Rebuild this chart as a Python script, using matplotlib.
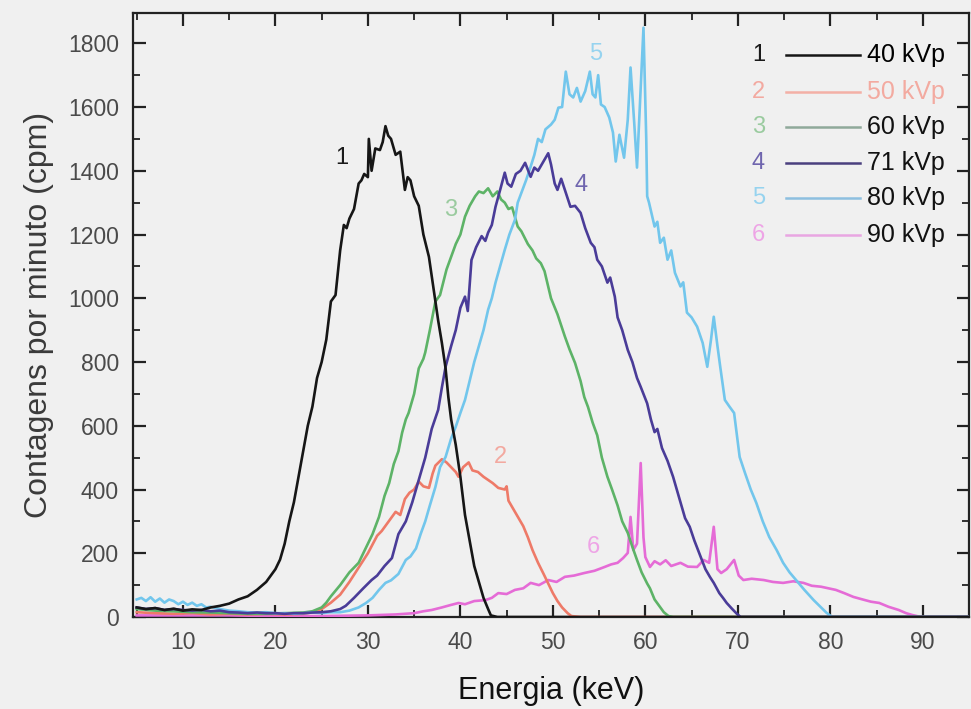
import matplotlib
matplotlib.use("Agg")
import matplotlib.pyplot as plt
from matplotlib.ticker import MultipleLocator

plt.rcParams['font.family'] = ['Liberation Sans', 'DejaVu Sans']

# ---------------- data ----------------
e1 = [5, 6, 7, 8, 9, 10, 11, 12, 13, 14, 15, 16, 17, 18, 19, 20, 20.5, 21, 21.5, 22, 22.5, 23, 23.5, 24,
      24.5, 25, 25.5, 26, 26.5, 27, 27.4, 27.7, 28, 28.5, 29, 29.3, 29.6, 30, 30.1, 30.4, 30.8, 31.3, 31.6,
      31.9, 32.2, 32.5, 33, 33.5, 34, 34.3, 34.6, 35, 35.5, 36, 36.6, 37, 37.3, 37.6, 38, 38.4, 38.7, 39,
      39.5, 40, 40.5, 41, 41.5, 42, 42.5, 43, 43.3, 44, 95]
v1 = [30, 25, 28, 22, 26, 20, 24, 22, 30, 35, 42, 55, 65, 85, 110, 150, 180, 230, 300, 360, 440, 520, 600, 660,
      750, 800, 870, 990, 1010, 1150, 1230, 1220, 1250, 1280, 1360, 1370, 1390, 1380, 1500, 1400, 1470, 1465, 1490,
      1540, 1510, 1500, 1450, 1460, 1340, 1380, 1370, 1320, 1290, 1200, 1130, 1050, 990, 930, 860, 780, 690, 620,
      540, 440, 320, 240, 160, 110, 60, 25, 5, 0, 0]

e2 = [5, 7, 9, 11, 13, 15, 17, 19, 21, 23, 24, 25, 26, 27, 28, 29, 30, 31, 31.5, 32, 33, 33.5, 34, 34.5, 35,
      35.5, 36, 36.6, 37, 37.3, 38, 38.5, 39, 39.5, 39.8, 40.3, 40.9, 41.3, 41.9, 42.5, 43, 43.5, 44.1, 44.8,
      45, 45.2, 45.7, 46.2, 46.8, 47.3, 47.8, 48.4, 49, 49.5, 50, 50.5, 51, 51.6, 52, 53, 95]
v2 = [15, 12, 10, 12, 8, 10, 8, 10, 8, 10, 15, 25, 45, 70, 110, 155, 200, 255, 270, 290, 330, 320, 370, 390, 400,
      425, 410, 405, 450, 475, 495, 485, 470, 455, 440, 470, 485, 460, 455, 440, 430, 420, 405, 400,
      410, 365, 340, 315, 285, 250, 210, 170, 135, 105, 75, 50, 30, 12, 3, 0, 0]

e3 = [5, 7, 9, 11, 13, 15, 17, 19, 21, 23, 24, 25, 25.5, 26, 27, 27.5, 28, 29, 29.5, 30, 30.5, 31.2, 31.8, 32.3,
      32.8, 33.3, 33.7, 34.1, 34.4, 35, 35.5, 36, 36.2, 36.7, 37.3, 37.8, 38.5, 39, 39.5, 40, 40.5, 41, 41.6,
      42, 42.5, 43, 43.5, 44, 44.4, 44.8, 45.2, 45.6, 46.2, 46.6, 47.3, 47.8, 48.2, 48.7, 49.1, 49.8, 50.5,
      51.3, 51.8, 52.4, 53, 53.4, 53.8, 54.3, 54.8, 55.3, 55.9, 56.4, 57, 57.5, 58.1, 58.6, 59.1, 59.6, 60.2,
      60.5, 61, 61.5, 62, 62.5, 63, 95]
v3 = [25, 20, 18, 15, 14, 12, 10, 10, 12, 14, 18, 30, 45, 65, 100, 120, 140, 170, 200, 230, 260, 314, 380, 420,
      480, 520, 578, 620, 640, 700, 780, 810, 830, 900, 990, 1010, 1090, 1130, 1170, 1200, 1256, 1290, 1320,
      1335, 1330, 1345, 1320, 1335, 1310, 1300, 1280, 1285, 1225, 1210, 1170, 1150, 1125, 1110, 1085, 1000, 950,
      880, 840, 797, 740, 690, 659, 610, 570, 500, 440, 400, 350, 300, 264, 220, 179, 140, 105,
      90, 55, 35, 15, 3, 0, 0]

e4 = [5, 6, 7, 8, 9, 10, 11, 12, 13, 14, 15, 16, 17, 18, 19, 20, 21, 22, 23, 24, 25, 26, 27, 27.6, 28.5, 29.5,
      30.4, 31, 31.8, 32.6, 33.3, 34.1, 34.8, 35.5, 36.2, 36.9, 37.6, 38, 38.4, 39, 39.5, 40, 40.5, 40.8, 41.2,
      41.7, 42.3, 42.7, 43, 43.4, 43.8, 44.3, 44.8, 45.1, 45.5, 46, 46.5, 47, 47.6, 48, 48.4, 49, 49.5, 49.8,
      50.2, 50.5, 50.9, 51.3, 51.9, 52.4, 53, 53.5, 54.1, 54.5, 54.8, 55.3, 55.9, 56.2, 56.7, 57, 57.5, 58.1,
      58.6, 59.1, 59.5, 60.2, 60.6, 61, 61.3, 61.8, 62.4, 63, 63.4, 63.8, 64.3, 64.8, 65.3, 65.9, 66.5, 67,
      67.4, 68, 68.4, 68.8, 69.4, 69.9, 70.3, 95]
v4 = [30, 25, 28, 22, 25, 22, 20, 22, 18, 20, 15, 14, 12, 14, 12, 12, 10, 12, 12, 14, 15, 18, 25, 35, 60, 90,
      116, 130, 160, 185, 260, 300, 360, 430, 500, 590, 650, 720, 785, 850, 900, 970, 1005, 960, 1120,
      1160, 1195, 1180, 1206, 1230, 1287, 1340, 1394, 1360, 1350, 1390, 1400, 1425, 1381, 1410, 1400, 1430, 1455, 1420,
      1360, 1340, 1375, 1340, 1287, 1290, 1268, 1220, 1174, 1160, 1121, 1100, 1049, 1065, 1005, 940, 900, 838,
      800, 750, 722, 670, 620, 580, 590, 530, 490, 440, 400, 360, 310, 283, 240, 195, 150, 125,
      107, 75, 60, 44, 25, 10, 0, 0]

e5 = [5, 5.5, 6, 6.5, 7, 7.5, 8, 8.5, 9, 9.5, 10, 10.5, 11, 11.5, 12, 12.5, 13, 14, 15, 16, 17, 18, 19, 20, 21,
      22, 23, 24, 25, 26, 27, 28, 29, 29.8, 30.5, 31.2, 31.9, 32.5, 33.3, 34.1, 34.6, 35.2, 35.7, 36.2, 36.7,
      37.3, 37.8, 38.4, 39, 39.5, 40, 40.5, 41, 41.5, 42, 42.5, 43, 43.4, 43.8, 44.3, 44.8, 45.3, 45.9, 46.2,
      46.6, 47.1, 47.6, 48, 48.4, 48.8, 49.2, 49.8, 50.2, 50.6, 51, 51.4, 51.8, 52.2, 52.6, 53, 53.5, 54, 54.3,
      54.6, 54.9, 55.2, 55.6, 56.1, 56.5, 56.8, 57.2, 57.7, 58.1, 58.4, 58.8, 59.1, 59.4, 59.8, 60.1, 60.2,
      60.4, 61, 61.3, 61.6, 62, 62.4, 62.8, 63.2, 63.8, 64.1, 64.5, 65, 65.6, 66.2, 66.7, 67.1, 67.4, 67.8,
      68.1, 68.6, 69.1, 69.6, 70.2, 70.8, 71.4, 72, 72.7, 73.4, 74.2, 74.9, 75.6, 76.3, 77.2, 78.2, 79, 79.6,
      80.2, 95]
v5 = [55, 60, 50, 62, 48, 58, 45, 55, 50, 40, 48, 38, 45, 35, 40, 30, 32, 25, 20, 18, 15, 14, 15, 12, 12,
      10, 12, 14, 12, 15, 15, 20, 30, 44, 60, 85, 107, 115, 135, 179, 190, 215, 260, 300, 350,
      408, 470, 502, 560, 597, 640, 681, 740, 800, 850, 900, 964, 1000, 1049, 1100, 1152, 1200, 1246, 1300,
      1331, 1370, 1413, 1450, 1500, 1490, 1530, 1545, 1560, 1598, 1600, 1711, 1640, 1630, 1660, 1617, 1650, 1711, 1640,
      1630, 1700, 1608, 1600, 1567, 1520, 1429, 1513, 1441, 1560, 1724, 1550, 1410, 1600, 1849, 1500, 1320,
      1300, 1225, 1240, 1174, 1190, 1121, 1150, 1080, 1037, 1050, 955, 940, 911, 860, 785, 870, 942, 850,
      785, 681, 660, 640, 502, 450, 400, 358, 300, 251, 210, 170, 140, 116, 85, 53, 30, 13,
      0, 0]

e6 = [5, 10, 15, 20, 25, 30, 33, 35, 36, 36.9, 38, 39, 39.8, 40.5, 41.5, 42.7, 43.4, 44.1, 45, 45.9, 46.8, 47.6,
      48.5, 49.5, 50.4, 51.3, 52.3, 53.4, 54.5, 55.6, 56.3, 57, 57.6, 58.1, 58.4, 58.7, 59.1, 59.5, 59.8, 60,
      60.5, 61, 61.6, 62.2, 62.8, 63.8, 64.6, 65.6, 66.3, 66.9, 67.4, 67.8, 68.2, 68.8, 69.6, 70.1, 70.6, 71.5,
      72.8, 73.8, 74.9, 76, 77.1, 78, 79, 80.6, 81.5, 82.5, 83.5, 84.4, 85.3, 86.3, 87.4, 88.2, 88.9, 89.5, 90, 95]
v6 = [5, 5, 5, 3, 3, 5, 8, 12, 18, 22, 30, 38, 44, 40, 50, 53, 60, 75, 72, 85, 90, 107,
      100, 116, 110, 126, 130, 138, 145, 157, 165, 170, 185, 201, 314, 210, 230, 483, 250, 188,
      157, 175, 165, 178, 160, 170, 158, 157, 179, 170, 283, 150, 138, 150, 179, 130, 116, 120,
      116, 110, 107, 112, 107, 98, 95, 85, 75, 63, 55, 48, 44, 32, 22, 12, 6, 2, 0, 0]

curve_ids = ['1', '2', '3', '4', '5', '6']
legend_labels = ['40 kVp', '50 kVp', '60 kVp', '71 kVp', '80 kVp', '90 kVp']
x_ticks = [10, 20, 30, 40, 50, 60, 70, 80, 90]
y_ticks = [0, 200, 400, 600, 800, 1000, 1200, 1400, 1600, 1800]

# label anchor (energy, counts) for the numbers on the curves
label_pos = [(27.2, 1441), (44.3, 502), (39.0, 1278), (53.0, 1356), (54.6, 1765), (54.4, 220)]

# ---------------- style ----------------
line_colors = ['#161616', '#ee7a68', '#5db367', '#4a3c98', '#72c6ec', '#e56bd6']
num_colors = ['#1a1a1a', '#f3a9a0', '#9acb9f', '#6f65ae', '#96d3ef', '#eea4e6']
leg_line_colors = ['#161616', '#f3b0a6', '#8fa99a', '#4a3f7e', '#8dbfe0', '#e9a6e2']
leg_text_colors = ['#000000', '#f3aaa0', '#111111', '#111111', '#111111', '#111111']
bg = '#f0f0f0'

fig = plt.figure(figsize=(9.71, 7.09), dpi=100, facecolor=bg)
ax = fig.add_axes([133 / 971, 1 - 617 / 709, (969 - 133) / 971, (617 - 13) / 709])
ax.set_facecolor(bg)

series = [(e1, v1), (e2, v2), (e3, v3), (e4, v4), (e5, v5), (e6, v6)]
order = [5, 1, 2, 4, 3, 0]
for i in order:
    e, v = series[i]
    ax.plot(e, v, color=line_colors[i], lw=1.9, zorder=3 + (1 if i == 0 else 0))

for i, (x, y) in enumerate(label_pos):
    ax.text(x, y, curve_ids[i], color=num_colors[i], fontsize=17, ha='center', va='center')

ax.set_xlim(4.6, 95.0)
ax.set_ylim(0, 1895)
ax.set_xticks(x_ticks)
ax.set_yticks(y_ticks)
ax.xaxis.set_minor_locator(MultipleLocator(5))
ax.yaxis.set_minor_locator(MultipleLocator(100))
ax.tick_params(which='both', direction='in', top=True, right=True, colors='#222222',
               labelcolor='#4a4a4a', labelsize=16.5)
ax.tick_params(which='major', length=9, width=1.6)
ax.tick_params(which='minor', length=5, width=1.3)
ax.tick_params(axis='x', which='major', pad=10)
ax.tick_params(axis='y', which='major', pad=10)
for s in ax.spines.values():
    s.set_linewidth(1.6)
    s.set_color('#222222')

ax.set_xlabel('Energia (keV)', fontsize=22, color='#111111', labelpad=16)
ax.set_ylabel('Contagens por minuto (cpm)', fontsize=23, color='#3a3a3a', labelpad=10)

# legend drawn as number + line sample + text
rows = [0.930, 0.869, 0.811, 0.752, 0.694, 0.632]
for i, yy in enumerate(rows):
    ax.text(0.748, yy, curve_ids[i], transform=ax.transAxes, color=num_colors[i],
            fontsize=17, ha='center', va='center')
    ax.plot([0.781, 0.870], [yy, yy], transform=ax.transAxes, color=leg_line_colors[i], lw=1.8)
    ax.text(0.878, yy, legend_labels[i], transform=ax.transAxes, color=leg_text_colors[i],
            fontsize=18, ha='left', va='center')

fig.savefig('out.png', dpi=100, facecolor=bg)
